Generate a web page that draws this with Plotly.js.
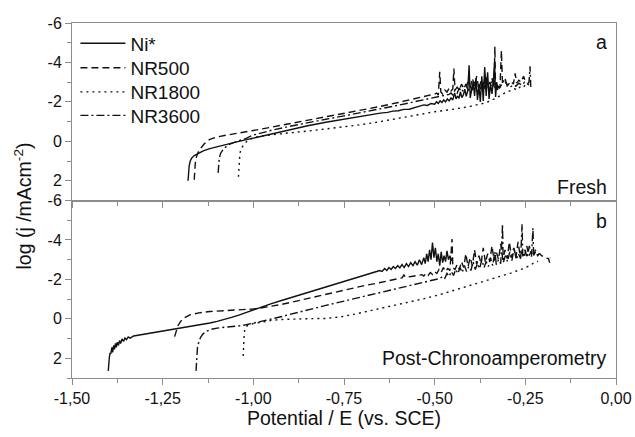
<!DOCTYPE html>
<html>
<head>
<meta charset="utf-8">
<script src="https://cdn.plot.ly/plotly-3.0.1.min.js"></script>
<style>
html,body{margin:0;padding:0;background:#fff;}
#chart{width:635px;height:437px;}
</style>
</head>
<body>
<div id="chart"></div>
<script>
// ---------------- DATA (potential E vs SCE, log j) ----------------
const seriesNames = ["Ni*", "NR500", "NR1800", "NR3600"];
const panelLabels = ["a", "b"];
const panelNotes = ["Fresh", "Post-Chronoamperometry"];

const xTickVals = [-1.5, -1.25, -1.0, -0.75, -0.5, -0.25, 0.0];
const xTickText = ["-1,50", "-1,25", "-1,00", "-0,75", "-0,50", "-0,25", "0,00"];
const yTickVals = [-6, -4, -2, 0, 2];
const yTickText = ["-6", "-4", "-2", "0", "2"];

// Panel a (Fresh)
const niA = [[-1.180,2.0],[-1.179,1.6],[-1.177,1.25],[-1.174,1.0],[-1.170,0.85],[-1.163,0.72],[-1.152,0.6],[-1.138,0.48],[-1.120,0.37],[-1.100,0.27],[-1.080,0.17],[-1.060,0.08],[-1.040,0.0],[-1.000,-0.16],[-0.950,-0.38],[-0.900,-0.59],[-0.850,-0.79],[-0.800,-0.97],[-0.750,-1.13],[-0.700,-1.28],[-0.650,-1.43],[-0.630,-1.47],[-0.615,-1.53],[-0.600,-1.55],[-0.585,-1.62],[-0.570,-1.63],[-0.555,-1.72],[-0.540,-1.78],[-0.530,-1.85],[-0.520,-1.82],[-0.510,-1.92],[-0.500,-1.88],[-0.495,-2.0],[-0.490,-1.92],[-0.485,-2.05],[-0.480,-1.97],[-0.475,-2.1],[-0.470,-2.0],[-0.465,-2.15],[-0.460,-2.05],[-0.455,-2.2],[-0.450,-2.1],[-0.445,-2.45],[-0.441,-2.15],[-0.437,-2.3],[-0.433,-2.18],[-0.429,-2.5],[-0.425,-2.22],[-0.421,-2.35],[-0.417,-2.65],[-0.413,-2.28],[-0.409,-2.55],[-0.405,-3.86],[-0.402,-2.2],[-0.398,-2.6],[-0.394,-3.0],[-0.390,-2.3],[-0.386,-3.2],[-0.382,-2.1],[-0.378,-2.8],[-0.374,-2.0],[-0.370,-3.3],[-0.366,-2.05],[-0.362,-3.77],[-0.358,-2.3],[-0.354,-3.5],[-0.350,-2.15],[-0.346,-2.9],[-0.342,-2.4],[-0.338,-3.1],[-0.335,-4.0],[-0.332,-2.25],[-0.329,-3.0],[-0.326,-2.6]];

const nr500A = [[-1.163,1.95],[-1.162,1.5],[-1.160,1.1],[-1.157,0.8],[-1.152,0.55],[-1.145,0.35],[-1.135,0.12],[-1.120,-0.1],[-1.100,-0.22],[-1.075,-0.31],[-1.050,-0.38],[-1.000,-0.55],[-0.950,-0.72],[-0.900,-0.89],[-0.850,-1.06],[-0.800,-1.23],[-0.750,-1.40],[-0.700,-1.58],[-0.650,-1.77],[-0.600,-1.97],[-0.550,-2.18],[-0.500,-2.40],[-0.495,-2.45],[-0.490,-2.35],[-0.486,-3.52],[-0.483,-2.5],[-0.478,-2.4],[-0.472,-2.6],[-0.466,-2.5],[-0.460,-2.7],[-0.455,-2.55],[-0.450,-2.65],[-0.447,-3.69],[-0.444,-2.6],[-0.438,-2.75],[-0.432,-2.6],[-0.426,-2.9],[-0.420,-2.7],[-0.414,-2.8],[-0.408,-3.0],[-0.402,-2.7],[-0.396,-3.2],[-0.390,-2.8],[-0.384,-3.3],[-0.378,-2.6],[-0.372,-3.1],[-0.366,-2.7],[-0.360,-3.4],[-0.354,-2.8],[-0.348,-3.0],[-0.342,-2.7],[-0.336,-2.9],[-0.334,-4.8],[-0.332,-2.6],[-0.326,-2.8],[-0.320,-2.7],[-0.316,-4.6],[-0.313,-2.9],[-0.305,-3.0],[-0.298,-2.85],[-0.290,-3.05],[-0.283,-2.9],[-0.278,-3.45],[-0.274,-2.95],[-0.268,-3.1],[-0.262,-3.0],[-0.255,-3.3],[-0.250,-3.05],[-0.245,-3.1]];

const nr1800A = [[-1.041,1.8],[-1.040,1.3],[-1.039,0.9],[-1.037,0.6],[-1.033,0.35],[-1.025,0.12],[-1.012,-0.08],[-1.000,-0.18],[-0.980,-0.27],[-0.950,-0.34],[-0.900,-0.43],[-0.850,-0.52],[-0.800,-0.62],[-0.750,-0.73],[-0.700,-0.85],[-0.650,-1.0],[-0.600,-1.17],[-0.550,-1.34],[-0.500,-1.50],[-0.450,-1.62],[-0.400,-1.78],[-0.360,-1.95],[-0.330,-2.2],[-0.310,-2.42],[-0.290,-2.56],[-0.280,-2.66],[-0.272,-2.6],[-0.265,-2.75],[-0.258,-2.7],[-0.250,-2.86],[-0.244,-2.8],[-0.240,-2.92]];

const nr3600A = [[-1.097,1.6],[-1.096,1.2],[-1.094,0.85],[-1.090,0.6],[-1.083,0.4],[-1.072,0.22],[-1.060,0.1],[-1.045,0.0],[-1.020,-0.15],[-1.000,-0.32],[-0.950,-0.56],[-0.900,-0.76],[-0.850,-0.95],[-0.800,-1.12],[-0.750,-1.29],[-0.700,-1.46],[-0.650,-1.64],[-0.600,-1.83],[-0.550,-2.03],[-0.500,-2.22],[-0.460,-2.38],[-0.455,-2.45],[-0.450,-2.35],[-0.444,-2.6],[-0.438,-2.45],[-0.432,-2.7],[-0.426,-2.5],[-0.420,-2.65],[-0.414,-2.9],[-0.408,-2.55],[-0.402,-2.8],[-0.396,-2.6],[-0.390,-3.1],[-0.384,-2.5],[-0.378,-2.9],[-0.372,-2.6],[-0.366,-3.0],[-0.360,-2.55],[-0.354,-2.8],[-0.348,-2.6],[-0.342,-3.2],[-0.336,-2.7],[-0.330,-2.9],[-0.322,-2.7],[-0.314,-2.9],[-0.306,-3.2],[-0.300,-2.8],[-0.292,-2.75],[-0.284,-2.85],[-0.276,-2.8],[-0.268,-2.95],[-0.260,-2.85],[-0.252,-3.0],[-0.245,-2.9],[-0.240,-3.0],[-0.237,-3.8],[-0.235,-2.75]];

// Panel b (Post-Chronoamperometry)
const niB = [[-1.400,2.64],[-1.399,2.3],[-1.397,1.95],[-1.395,1.72],[-1.393,1.78],[-1.390,1.45],[-1.388,1.7],[-1.385,1.35],[-1.383,1.55],[-1.380,1.25],[-1.378,1.45],[-1.375,1.18],[-1.372,1.35],[-1.369,1.1],[-1.366,1.25],[-1.362,1.02],[-1.358,1.15],[-1.354,0.97],[-1.350,1.05],[-1.345,0.92],[-1.340,0.98],[-1.330,0.87],[-1.320,0.84],[-1.300,0.78],[-1.280,0.72],[-1.260,0.65],[-1.240,0.59],[-1.220,0.53],[-1.200,0.47],[-1.180,0.41],[-1.160,0.35],[-1.140,0.28],[-1.120,0.21],[-1.100,0.13],[-1.080,0.04],[-1.060,-0.07],[-1.040,-0.19],[-1.020,-0.32],[-1.000,-0.46],[-0.980,-0.59],[-0.950,-0.77],[-0.920,-0.94],[-0.900,-1.05],[-0.850,-1.33],[-0.800,-1.61],[-0.750,-1.89],[-0.700,-2.17],[-0.669,-2.35],[-0.660,-2.4],[-0.652,-2.45],[-0.645,-2.4],[-0.638,-2.55],[-0.632,-2.45],[-0.626,-2.6],[-0.620,-2.5],[-0.614,-2.65],[-0.608,-2.55],[-0.602,-2.7],[-0.596,-2.58],[-0.590,-2.75],[-0.584,-2.6],[-0.578,-2.8],[-0.572,-2.65],[-0.566,-2.85],[-0.560,-2.7],[-0.554,-2.9],[-0.548,-2.72],[-0.542,-3.0],[-0.536,-2.75],[-0.530,-3.1],[-0.526,-2.8],[-0.522,-3.3],[-0.518,-2.9],[-0.514,-3.5],[-0.510,-3.0],[-0.506,-3.87],[-0.502,-3.1],[-0.498,-3.6],[-0.494,-2.9],[-0.490,-3.3],[-0.486,-2.7],[-0.482,-3.4],[-0.478,-2.85],[-0.474,-3.2],[-0.470,-2.9],[-0.466,-3.45],[-0.462,-3.0],[-0.458,-3.2],[-0.454,-2.95],[-0.450,-3.1]];

const nr500B = [[-1.217,0.9],[-1.213,0.6],[-1.208,0.35],[-1.200,0.12],[-1.190,-0.05],[-1.175,-0.2],[-1.150,-0.3],[-1.120,-0.37],[-1.080,-0.42],[-1.050,-0.44],[-1.020,-0.46],[-1.000,-0.5],[-0.980,-0.55],[-0.950,-0.63],[-0.926,-0.72],[-0.900,-0.82],[-0.850,-1.03],[-0.800,-1.25],[-0.750,-1.47],[-0.700,-1.66],[-0.650,-1.84],[-0.600,-2.03],[-0.590,-2.08],[-0.585,-2.22],[-0.580,-2.1],[-0.560,-2.16],[-0.540,-2.2],[-0.535,-2.24],[-0.530,-2.17],[-0.524,-2.3],[-0.518,-2.2],[-0.512,-2.35],[-0.506,-2.25],[-0.500,-2.4],[-0.494,-2.3],[-0.488,-2.5],[-0.482,-2.35],[-0.476,-2.6],[-0.470,-2.4],[-0.464,-2.55],[-0.458,-2.45],[-0.454,-3.3],[-0.452,-4.05],[-0.450,-2.6],[-0.444,-2.5],[-0.438,-2.75],[-0.432,-2.5],[-0.426,-2.9],[-0.420,-2.6],[-0.414,-3.3],[-0.408,-2.65],[-0.402,-3.1],[-0.396,-2.7],[-0.390,-3.5],[-0.384,-2.75],[-0.378,-3.2],[-0.372,-2.8],[-0.366,-3.6],[-0.360,-2.85],[-0.354,-3.3],[-0.348,-2.9],[-0.342,-3.7],[-0.336,-2.95],[-0.330,-3.4],[-0.324,-3.0],[-0.318,-3.8],[-0.312,-3.0],[-0.306,-3.5],[-0.300,-3.05],[-0.294,-3.9],[-0.288,-3.1],[-0.282,-3.6],[-0.276,-3.1],[-0.270,-3.9],[-0.264,-3.15],[-0.258,-3.5],[-0.252,-3.2],[-0.246,-3.7],[-0.240,-3.2],[-0.234,-3.4],[-0.228,-3.15],[-0.222,-3.5],[-0.216,-3.25],[-0.210,-3.3],[-0.205,-3.2],[-0.195,-3.1],[-0.186,-3.05],[-0.183,-2.85],[-0.181,-3.1]];

const nr1800B = [[-1.028,1.88],[-1.027,1.4],[-1.026,1.0],[-1.025,0.69],[-1.022,0.45],[-1.015,0.32],[-1.000,0.24],[-0.975,0.15],[-0.950,0.08],[-0.920,0.03],[-0.880,0.0],[-0.840,-0.01],[-0.800,-0.02],[-0.760,-0.1],[-0.720,-0.24],[-0.680,-0.4],[-0.640,-0.56],[-0.600,-0.72],[-0.560,-0.88],[-0.520,-1.06],[-0.480,-1.26],[-0.440,-1.48],[-0.400,-1.7],[-0.360,-1.92],[-0.320,-2.14],[-0.290,-2.32],[-0.260,-2.52],[-0.240,-2.68],[-0.225,-2.85],[-0.215,-2.92]];

const nr3600B = [[-1.158,2.64],[-1.157,2.2],[-1.156,1.8],[-1.154,1.45],[-1.150,1.15],[-1.145,0.92],[-1.138,0.75],[-1.128,0.62],[-1.115,0.53],[-1.100,0.47],[-1.080,0.43],[-1.060,0.40],[-1.040,0.36],[-1.020,0.30],[-1.000,0.22],[-0.975,0.12],[-0.950,0.02],[-0.920,-0.12],[-0.900,-0.22],[-0.870,-0.37],[-0.840,-0.52],[-0.800,-0.68],[-0.750,-0.9],[-0.700,-1.12],[-0.650,-1.32],[-0.600,-1.53],[-0.550,-1.75],[-0.500,-1.97],[-0.485,-2.05],[-0.478,-2.15],[-0.472,-2.05],[-0.466,-2.3],[-0.460,-2.15],[-0.454,-2.4],[-0.448,-2.2],[-0.442,-2.5],[-0.436,-2.3],[-0.430,-2.6],[-0.424,-2.35],[-0.418,-2.7],[-0.412,-2.4],[-0.406,-2.65],[-0.400,-2.45],[-0.394,-2.9],[-0.388,-2.5],[-0.382,-2.8],[-0.376,-2.55],[-0.370,-3.0],[-0.364,-2.6],[-0.358,-2.9],[-0.352,-2.65],[-0.346,-3.1],[-0.340,-2.7],[-0.334,-3.4],[-0.330,-2.75],[-0.324,-3.0],[-0.318,-2.8],[-0.314,-4.2],[-0.313,-4.8],[-0.311,-2.85],[-0.305,-3.2],[-0.299,-2.9],[-0.293,-3.4],[-0.287,-2.95],[-0.281,-3.6],[-0.275,-3.0],[-0.269,-3.3],[-0.263,-3.05],[-0.260,-4.1],[-0.259,-4.8],[-0.257,-3.1],[-0.251,-3.5],[-0.245,-3.1],[-0.239,-3.7],[-0.233,-3.15],[-0.230,-3.9],[-0.229,-4.6],[-0.227,-3.2],[-0.222,-3.4],[-0.216,-3.2],[-0.212,-3.3]];

// ---------------- STYLE ----------------
const FONT = "'Liberation Sans', Arial, sans-serif";
const INK = "#111111";
const AXIS = "#8c8c8c";
const dashes = ["solid", "7px,4px", "2px,4px", "8px,3px,2px,3px"];
const legendIds = ["legend", "legend2", "legend3", "legend4"];
const panelA = [niA, nr500A, nr1800A, nr3600A];
const panelB = [niB, nr500B, nr1800B, nr3600B];

const traces = [];
panelA.forEach((d, i) => {
  traces.push({
    type: "scatter", mode: "lines", name: seriesNames[i],
    x: d.map(p => p[0]), y: d.map(p => p[1]),
    xaxis: "x2", yaxis: "y2", legend: legendIds[i],
    line: {color: INK, width: 1.4, dash: dashes[i]},
    showlegend: true, hoverinfo: "skip"
  });
});
panelB.forEach((d, i) => {
  traces.push({
    type: "scatter", mode: "lines", name: seriesNames[i],
    x: d.map(p => p[0]), y: d.map(p => p[1]),
    xaxis: "x", yaxis: "y",
    line: {color: INK, width: 1.4, dash: dashes[i]},
    showlegend: false, hoverinfo: "skip"
  });
});

function xAxis(extra) {
  return Object.assign({
    range: [-1.5, 0], tickmode: "array", tickvals: xTickVals, ticktext: xTickText,
    ticks: "outside", ticklen: 6, tickwidth: 1, tickcolor: AXIS,
    showline: true, linecolor: AXIS, linewidth: 1, mirror: true,
    showgrid: false, zeroline: false,
    minor: {ticks: "outside", ticklen: 4, tickcolor: AXIS, dtick: 0.125, tick0: -1.5, showgrid: false},
    tickfont: {family: FONT, size: 16, color: INK}
  }, extra);
}
function yAxis(extra) {
  return Object.assign({
    range: [3, -6], tickmode: "array", tickvals: yTickVals, ticktext: yTickText,
    ticks: "outside", ticklen: 6, tickwidth: 1, tickcolor: AXIS,
    showline: true, linecolor: AXIS, linewidth: 1, mirror: true,
    showgrid: false, zeroline: false,
    minor: {ticks: "outside", ticklen: 4, tickcolor: AXIS, dtick: 1, tick0: -6, showgrid: false},
    tickfont: {family: FONT, size: 16, color: INK}
  }, extra);
}
function legendAt(yPos) {
  return {x: 0.0063, y: yPos, xanchor: "left", yanchor: "top",
          bgcolor: "rgba(0,0,0,0)", borderwidth: 0, itemwidth: 45,
          font: {family: FONT, size: 19, color: INK}};
}

const layout = {
  width: 635, height: 437,
  margin: {l: 72, r: 19, t: 23, b: 59},
  paper_bgcolor: "#ffffff", plot_bgcolor: "#ffffff",
  font: {family: FONT, color: INK},
  showlegend: true,
  legend: legendAt(0.996),
  legend2: legendAt(0.927),
  legend3: legendAt(0.859),
  legend4: legendAt(0.793),
  xaxis: xAxis({domain: [0, 1], anchor: "y",
    title: {text: "Potential / E (vs. SCE)", font: {family: FONT, size: 19.5, color: INK}, standoff: 3}}),
  xaxis2: xAxis({domain: [0, 1], anchor: "y2", matches: "x", showticklabels: false}),
  yaxis: yAxis({domain: [0, 0.5], anchor: "x"}),
  yaxis2: yAxis({domain: [0.5, 1], anchor: "x2"}),
  annotations: [
    {xref: "paper", yref: "paper", x: 1, y: 1, xanchor: "right", yanchor: "top", xshift: -7, yshift: -6,
     text: panelLabels[0], showarrow: false, font: {family: FONT, size: 19.5, color: INK}},
    {xref: "paper", yref: "paper", x: 1, y: 0.5, xanchor: "right", yanchor: "bottom", xshift: -7, yshift: 1,
     text: panelNotes[0], showarrow: false, font: {family: FONT, size: 19.5, color: INK}},
    {xref: "paper", yref: "paper", x: 1, y: 0.5, xanchor: "right", yanchor: "top", xshift: -7, yshift: -7,
     text: panelLabels[1], showarrow: false, font: {family: FONT, size: 19.5, color: INK}},
    {xref: "paper", yref: "paper", x: 1, y: 0, xanchor: "right", yanchor: "bottom", xshift: -7, yshift: 7,
     text: panelNotes[1], showarrow: false, font: {family: FONT, size: 19.5, color: INK}},
    {xref: "paper", yref: "paper", x: 0, y: 0.5, xanchor: "center", yanchor: "middle", xshift: -50, yshift: -6,
     textangle: -90, text: "log (j /mAcm<sup>-2</sup>)", showarrow: false,
     font: {family: FONT, size: 19.5, color: INK}}
  ]
};

Plotly.newPlot("chart", traces, layout, {staticPlot: true, displayModeBar: false});
</script>
</body>
</html>
